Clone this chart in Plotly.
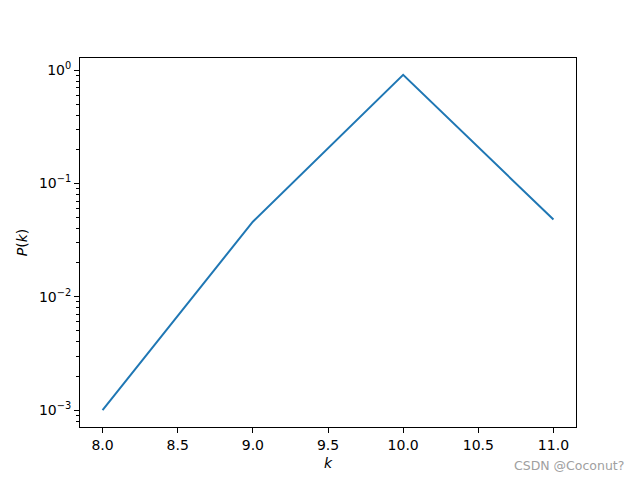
import plotly.graph_objects as go

k_vals = [8, 9, 10, 11]
p_vals = [0.001, 0.046, 0.91, 0.048]

y_tick_vals = [1e-3, 1e-2, 1e-1, 1e0]
y_tick_text = ["10<sup>−3</sup>", "10<sup>−2</sup>", "10<sup>−1</sup>", "10<sup>0</sup>"]
x_tick_vals = [8.0, 8.5, 9.0, 9.5, 10.0, 10.5, 11.0]

minor_vals = [m * 10.0 ** e for e in (-4, -3, -2, -1, 0) for m in range(2, 10)]

fig = go.Figure()
fig.add_trace(go.Scatter(x=k_vals, y=p_vals, mode="lines",
                         line=dict(color="#1f77b4", width=2)))

font = dict(family="DejaVu Sans", size=14, color="black")
fig.update_layout(
    width=640, height=480,
    margin=dict(l=80, r=64, t=58, b=53),
    plot_bgcolor="white", paper_bgcolor="white",
    showlegend=False, font=font,
    xaxis=dict(range=[7.85, 11.15], tickvals=x_tick_vals, tickformat=".1f",
               ticks="outside", ticklen=5, tickwidth=1, tickcolor="black",
               showline=True, linecolor="black", linewidth=1, mirror=True,
               showgrid=False, zeroline=False,
               title=dict(text="<i>k</i>", standoff=6, font=font)),
    yaxis=dict(type="log", range=[-3.149, 0.107], tickvals=y_tick_vals, ticktext=y_tick_text,
               ticks="outside", ticklen=5, tickwidth=1, tickcolor="black",
               showline=True, linecolor="black", linewidth=1, mirror=True,
               showgrid=False, zeroline=False,
               minor=dict(tickvals=minor_vals, ticks="outside", ticklen=3, tickwidth=0.8,
                          tickcolor="black", showgrid=False),
               title=dict(text="<i>P</i>(<i>k</i>)", standoff=8, font=font)),
)
fig.add_annotation(text="CSDN @Coconut?", xref="paper", yref="paper", x=1.1, y=-0.103,
                   xanchor="right", yanchor="middle", showarrow=False,
                   font=dict(family="DejaVu Sans", size=12.5, color="#a0a0a0"))
fig.write_html("out.html", config={"displayModeBar": False},
               post_script="document.body.style.margin='0';")
